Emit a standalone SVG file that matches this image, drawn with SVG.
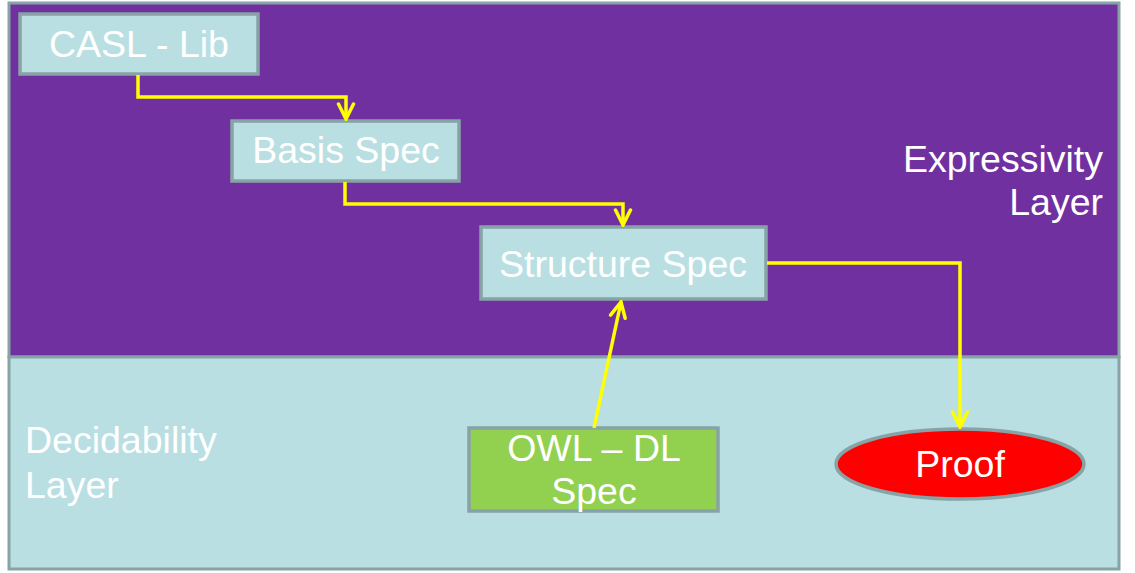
<svg xmlns="http://www.w3.org/2000/svg" width="1135" height="573" viewBox="0 0 1135 573">
  <style>
    .layer { stroke: #87A3A6; stroke-width: 3; }
    .box { fill: #B9DFE2; stroke: #87A3A6; stroke-width: 3.5; }
    .txt { font-family: "Liberation Sans", Arial, sans-serif; font-size: 37.5px; fill: #FFFFFF; }
    .conn { fill: none; stroke: #FFFF00; stroke-width: 3.5; stroke-linejoin: miter; }
  </style>
  <defs>
    <marker id="arrow" viewBox="-18 -10 20 20" refX="0" refY="0" markerWidth="20" markerHeight="20" markerUnits="userSpaceOnUse" orient="auto">
      <path d="M-15,-7.5 L0,0 L-15,7.5" fill="none" stroke="#FFFF00" stroke-width="3.5" stroke-linecap="round" stroke-linejoin="miter"/>
    </marker>
  </defs>
  <rect x="0" y="0" width="1135" height="573" fill="#FFFFFF"/>
  <g id="expressivity-layer">
    <rect class="layer" x="9" y="3" width="1110" height="354" fill="#7030A0"/>
    <text class="txt" x="1103" y="172" text-anchor="end">Expressivity</text>
    <text class="txt" x="1103" y="215" text-anchor="end">Layer</text>
  </g>
  <g id="decidability-layer">
    <rect class="layer" x="9" y="357" width="1110" height="212" fill="#B9DFE2"/>
    <text class="txt" x="25" y="453">Decidability</text>
    <text class="txt" x="25" y="498">Layer</text>
  </g>
  <g id="casl-lib">
    <rect class="box" x="20" y="14" width="238" height="60"/>
    <text class="txt" x="139" y="57" text-anchor="middle">CASL - Lib</text>
  </g>
  <g id="basis-spec">
    <rect class="box" x="232" y="121" width="227" height="60"/>
    <text class="txt" x="346" y="163" text-anchor="middle">Basis Spec</text>
  </g>
  <g id="structure-spec">
    <rect class="box" x="481" y="227" width="285" height="72"/>
    <text class="txt" x="623" y="277" text-anchor="middle">Structure Spec</text>
  </g>
  <g id="owl-dl-spec">
    <rect x="469" y="428" width="249" height="83" fill="#92D050" stroke="#87A3A6" stroke-width="3.5"/>
    <text class="txt" x="594" y="461" text-anchor="middle">OWL – DL</text>
    <text class="txt" x="594" y="504" text-anchor="middle">Spec</text>
  </g>
  <g id="proof">
    <ellipse cx="960" cy="464" rx="124" ry="35" fill="#FF0000" stroke="#87A3A6" stroke-width="3.5"/>
    <text class="txt" x="960" y="477" text-anchor="middle">Proof</text>
  </g>
  <g id="connectors">
    <path class="conn" d="M138,75 L138,97 L346,97 L346,119" marker-end="url(#arrow)"/>
    <path class="conn" d="M345,182 L345,204 L623,204 L623,225" marker-end="url(#arrow)"/>
    <path class="conn" d="M767,263 L960,263 L960,427" marker-end="url(#arrow)"/>
    <path class="conn" d="M594,428 L621,302" marker-end="url(#arrow)"/>
  </g>
</svg>
